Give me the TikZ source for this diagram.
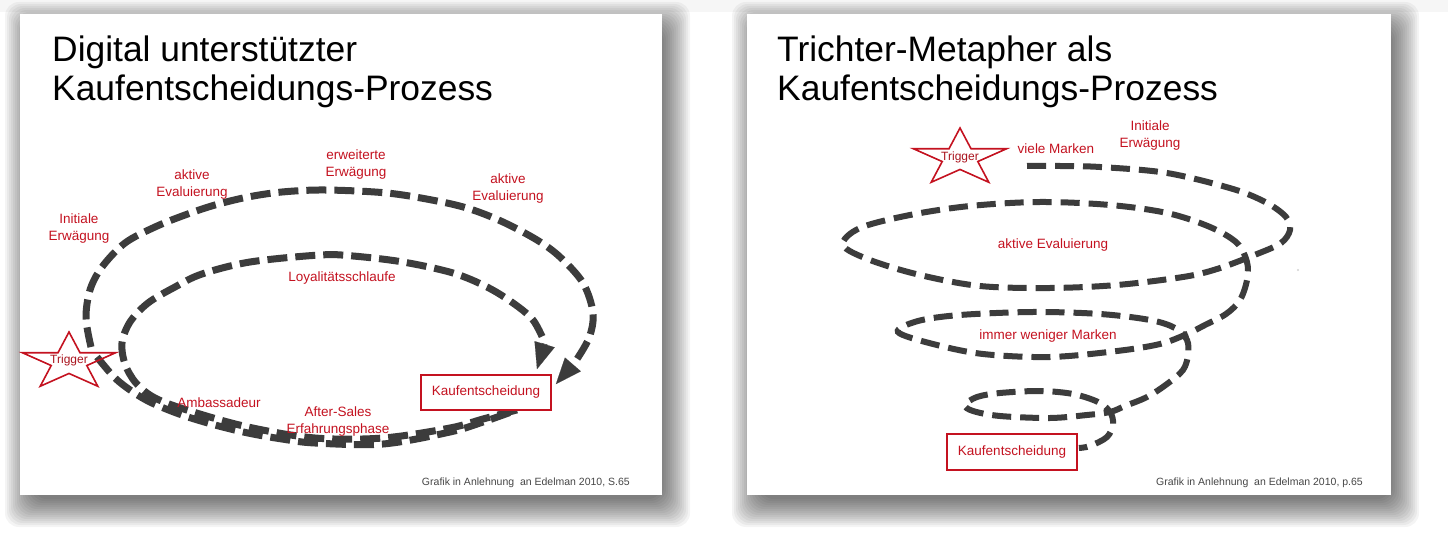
\documentclass[tikz,border=0pt]{standalone}
\usepackage{fontspec}
\setmainfont{Liberation Sans}
\usetikzlibrary{arrows.meta,calc}
\pgfdeclarelayer{shade}
\pgfdeclarelayer{curves}
\pgfsetlayers{shade,curves,main}
\definecolor{lblred}{RGB}{196,18,32}
\definecolor{trigred}{RGB}{170,20,30}
\definecolor{dashgray}{RGB}{60,60,60}
\definecolor{footgray}{RGB}{70,70,70}
\tikzset{
  trigstar/.pic={\draw[starline] (-90:30) -- (-54:11.46) -- (-18:30) -- (18:11.46) -- (54:30) -- (90:11.46) -- (126:30) -- (162:11.46) -- (198:30) -- (234:11.46) -- cycle;},
  starline/.style={draw=lblred, line width=1.6pt, line join=miter},
  title/.style={font=\fontsize{35.4}{40}\selectfont, inner sep=0pt, anchor=base west, text=black},
  lbl/.style={font=\fontsize{13.5}{17}\selectfont, text=lblred, align=center, inner sep=0pt},
  trig/.style={font=\fontsize{12}{14}\selectfont, text=trigred, inner sep=0pt},
  kbox/.style={draw=lblred, line width=1.8pt, fill=white, minimum width=130pt, minimum height=35pt, inner sep=0pt, font=\fontsize{13.5}{16}\selectfont, text=lblred},
  foot/.style={font=\fontsize{10.5}{12}\selectfont, text=footgray, anchor=east, inner sep=0pt},
  dashL/.style={draw=dashgray, line width=7pt, dash pattern=on 20pt off 8pt},
  dashR/.style={draw=dashgray, line width=6pt, dash pattern=on 19pt off 9pt},
  bigtip/.style={-{Triangle[length=26pt,width=21pt,line width=0.1pt]}}
}
\begin{document}
\begin{tikzpicture}[x=1pt,y=-1pt]
\useasboundingbox (0,0) rectangle (1448,537);
\begin{pgfonlayer}{shade}
  \fill[white] (0,0) rectangle (1448,537);
  \fill[black,opacity=0.035] (0,0) rectangle (1448,12);
  \foreach \xa/\xb in {20/662,747/1391}{
    \foreach \s in {-6,-4,...,22}{
      \fill[black,opacity=0.045,rounded corners=14pt] (\xa+7-\s,24-\s) rectangle (\xb+6+\s,505+\s);
    }
  }
  \foreach \xa/\xb in {20/662,747/1391}{
    \fill[white] (\xa,14) rectangle (\xb,495);
  }
\end{pgfonlayer}

% ---------------- left panel ----------------
\node[title] (tL1) at (52,62) {Digital unterstützter};
\node[title] (tL2) at (52,101) {Kaufentscheidungs-Prozess};

\node[lbl] (erw) at (356,165) {erweiterte\\Erwägung};
\node[lbl] (aevL) at (192,184.5) {aktive\\Evaluierung};
\node[lbl] (iniL) at (79,228.5) {Initiale\\Erwägung};
\node[lbl] (aevR) at (508,188.5) {aktive\\Evaluierung};
\node[lbl] (loy) at (342,278) {Loyalitätsschlaufe};
\node[lbl] (amb) at (219,403) {Ambassadeur};
\node[lbl] (aft) at (338,421.5) {After-Sales\\Erfahrungsphase};

\pic[xscale=1.633] at (69,362) {trigstar};
\node[trig] (trigL) at (69,360) {Trigger};
\node[kbox] (kdL) at (486,392.5) {Kaufentscheidung};

\node[foot] (fL) at (630,483) {Grafik in Anlehnung\ \ an Edelman 2010, S.65};

% ---------------- right panel ----------------
\node[title] (tR1) at (777,62) {Trichter-Metapher als};
\node[title] (tR2) at (777,101) {Kaufentscheidungs-Prozess};

\pic[xscale=1.633] at (960,158) {trigstar};
\node[trig] (trigR) at (960,157) {Trigger};
\node[lbl] (viele) at (1056,149) {viele Marken};
\node[lbl] (iniR) at (1150,135.5) {Initiale\\Erwägung};
\node[lbl] (aevM) at (1053,245) {aktive Evaluierung};
\node[lbl] (wen) at (1048,336) {immer weniger Marken};
\node[kbox, minimum height=36pt] (kdR) at (1012,452) {Kaufentscheidung};

\node[foot] (fR) at (1363,483) {Grafik in Anlehnung\ \ an Edelman 2010, p.65};

\fill[gray!35] (1298,270) circle (1.2);

% ---------------- curves ----------------
\begin{pgfonlayer}{curves}
  \coordinate (oS) at ($(trigL)+(22,-13)$);
  \coordinate (oE) at ($(kdL.north east)+(4,10)$);
  \coordinate (iS) at ($(kdL.south)+(31,-1)$);
  \coordinate (iE) at ($(kdL.north)+(51,-5)$);
  \coordinate (bS) at ($(trigL)+(28,-3)$);
  \coordinate (rS) at ($(trigR)+(67,9)$);
  \coordinate (rE) at ($(kdR.east)+(1,-4)$);

  % outer loop: Trigger -> Kaufentscheidung
  \draw[dashL,bigtip,fill=none] plot[smooth,tension=0.55] coordinates {
    (oS) (86,318) (90,290) (102,267) (125,243) (155,227) (185,215) (215,205)
    (248,197) (282,192) (325,190) (387,193) (437,201) (470,209) (503,222)
    (537,240) (560,257) (583,283) (593,313) (589,338) (575,362)} -- (oE);

  % inner loop (Loyalitaetsschlaufe)
  \draw[dashL,bigtip] plot[smooth,tension=0.55] coordinates {
    (iS) (483,419) (450,428) (383,438) (315,438) (248,427) (190,411) (155,398)
    (136,383) (125,364) (122,343) (130,322) (148,303) (175,287) (202,274)
    (250,262) (320,255) (353,256) (403,262) (453,273) (487,287) (513,303)
    (533,320) (545,343)} -- (iE);

  % bottom path from Trigger
  \draw[dashL] plot[smooth,tension=0.55] coordinates {
    (bS) (115,378) (133,392) (152,403) (182,415) (215,425) (248,433)
    (282,439) (315,443) (383,444) (450,432) (483,422) (iS)};

  % spiral (funnel)
  \draw[dashR] plot[smooth,tension=0.55] coordinates {
    (rS) (1060,166) (1100,167) (1167,173) (1233,189) (1267,203) (1286,217)
    (1290,230) (1281,243) (1257,254) (1217,269) (1183,277) (1117,285)
    (1050,288) (980,286) (920,275) (870,260) (843,245) (860,228) (910,215)
    (970,206) (1040,202) (1110,205) (1167,213) (1210,227) (1237,243)
    (1247,262) (1247,280) (1240,300) (1226,314) (1205,325) (1187,334)
    (1160,344) (1117,351) (1050,357) (983,354) (933,344) (898,332)
    (918,321) (960,315) (1033,312) (1100,314) (1150,320) (1175,328)
    (1187,340) (1188,355) (1183,370) (1167,384) (1147,397) (1125,406)
    (1110,412) (1087,415) (1050,418) (1000,416) (973,411) (965,405)
    (977,397) (1000,393) (1040,391) (1073,394) (1098,402) (1110,412)
    (1113,424) (1107,437) (1090,446) (rE)};
\end{pgfonlayer}
\end{tikzpicture}
\end{document}
